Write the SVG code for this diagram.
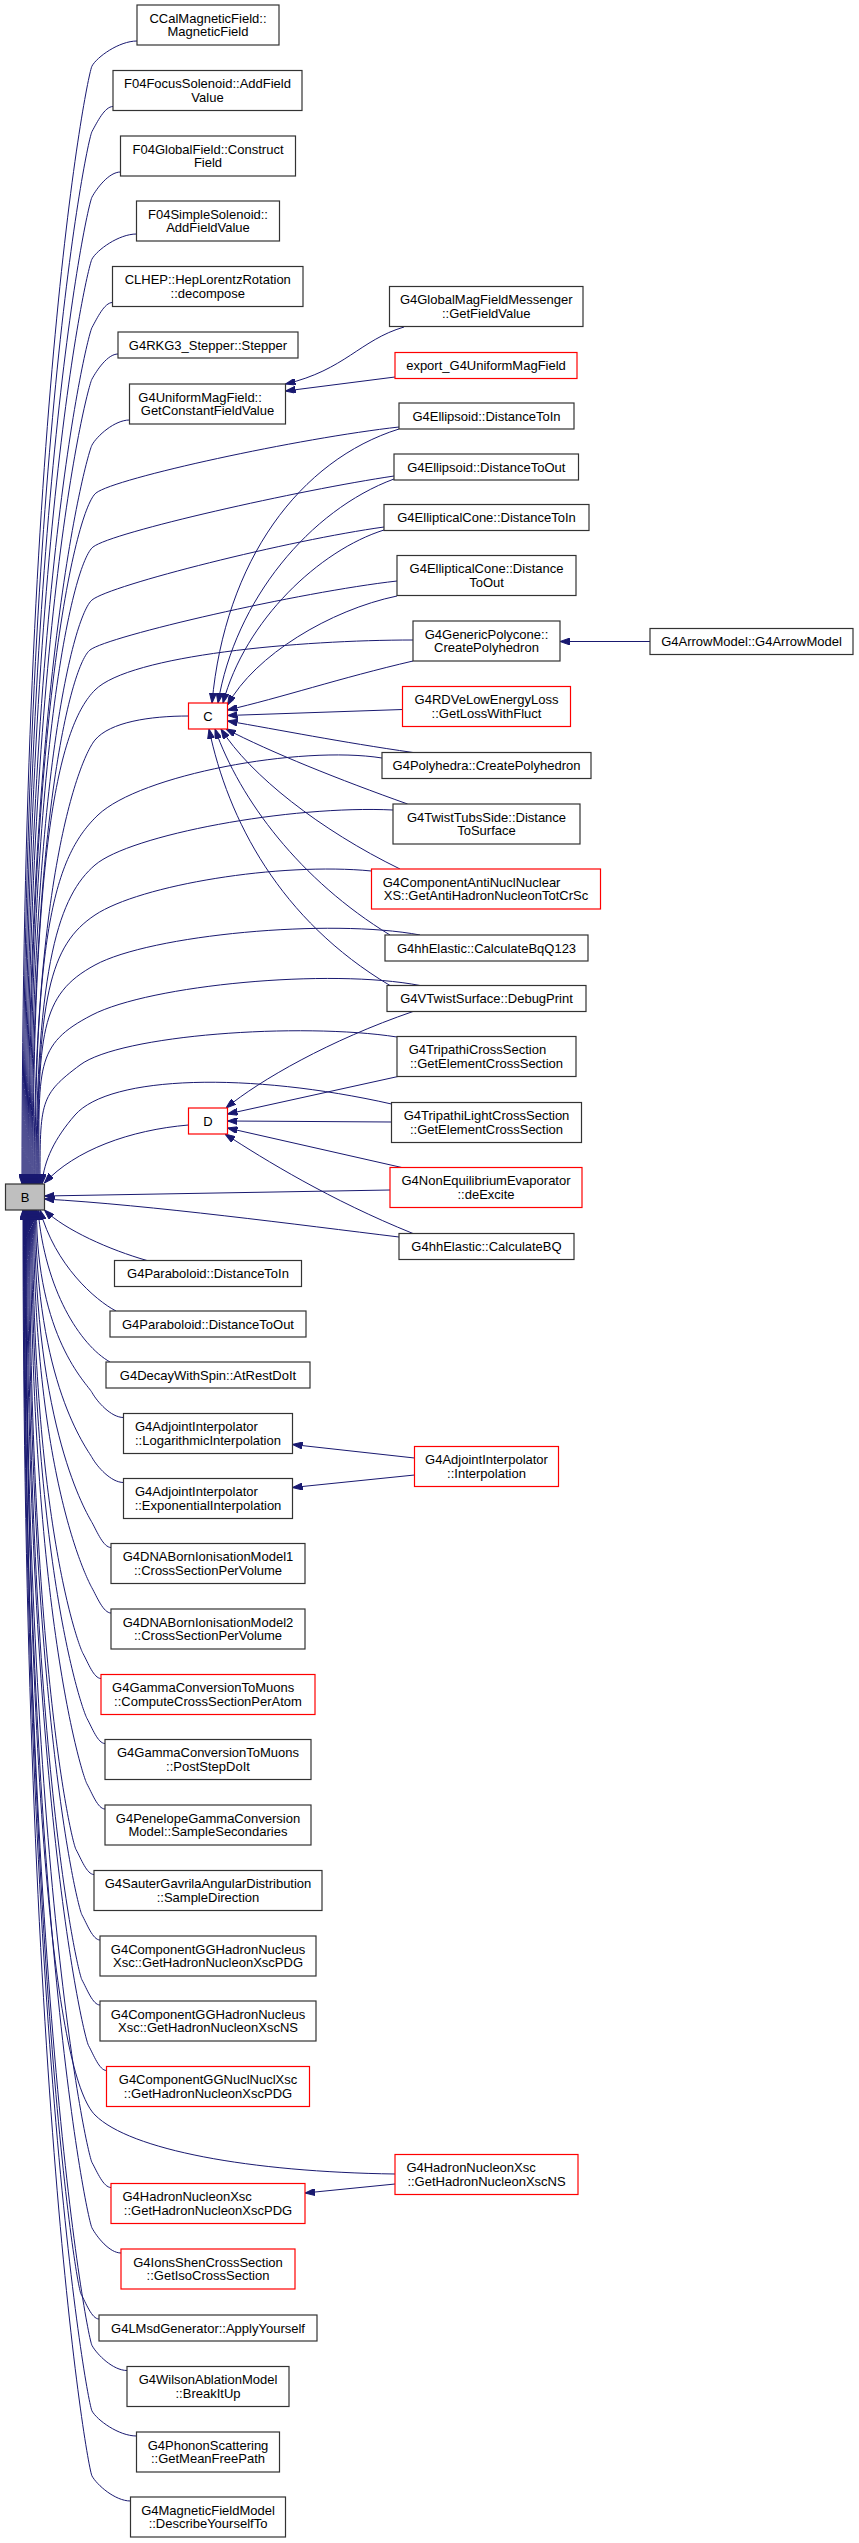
<svg xmlns="http://www.w3.org/2000/svg" width="859" height="2543" viewBox="0 0 859 2543">
<style>
.n rect{fill:#fff;stroke:#333;stroke-width:1.2}
.n.r rect{stroke:#ff0000}
.n.g rect{fill:#bfbfbf}
text{font-family:"Liberation Sans",Arial,Helvetica,sans-serif;font-size:13px;fill:#000}
.c{text-anchor:middle}
.e path{fill:none;stroke:#191970;stroke-width:1;marker-end:url(#ah)}
</style>
<defs>
<marker id="ah" viewBox="0 0 10 7" refX="10" refY="3.5" markerWidth="10" markerHeight="7" markerUnits="userSpaceOnUse" orient="auto"><path d="M0,0 L10,3.5 L0,7 z" fill="#191970" stroke="#191970" stroke-width="1"/></marker>
</defs>
<rect x="0" y="0" width="859" height="2543" fill="#fff"/>
<g id="edges" class="e">
<path d="M137,41 C119,41 97,57 92,66 S22,401 22,1184"/>
<path d="M113,106.5 C104.6,106.5 97,122.5 92,131.5 S23,447 23,1184"/>
<path d="M120.5,172 C109,172 97,188 92,197 S24,493 24,1184"/>
<path d="M136.5,234 C118.7,234 97,250 92,259 S25,536.5 25,1184"/>
<path d="M112.5,302.5 C104.3,302.5 97,318.5 92,327.5 S26,584.5 26,1184"/>
<path d="M118,354 C107.6,354 97,370 92,379 S27,620.5 27,1184"/>
<path d="M129.5,420 C114.5,420 97,436 92,445 S28,666.7 28,1184"/>
<path d="M399,427 C300,438 115,478 96,493 S29,700 29,1184"/>
<path d="M394,476 C300,490 112,532 93,547 S30,738 30,1184"/>
<path d="M384,527 C290,540 110,585 92,600 S31,775 31,1184"/>
<path d="M397,581 C300,592 108,636 90,650 S32,810 32,1184"/>
<path d="M413,640 C300,640 130,655 95,690 S33,838 33,1184"/>
<path d="M188.5,716 C150,716 110,722 95,740 S34,873 34,1184"/>
<path d="M382,758 C300,745 140,775 98,815 S35,926 35,1184"/>
<path d="M393,810 C290,805 130,835 95,865 S36,961 36,1184"/>
<path d="M371.5,871 C280,862 140,885 95,915 S37,996 37,1184"/>
<path d="M420,935 C330,918 150,935 95,965 S38,1031 38,1184"/>
<path d="M420,985.5 C330,968 150,985 92,1015 S39,1066 39,1184"/>
<path d="M397,1037 C300,1022 120,1035 80,1065 S40,1101 40,1184"/>
<path d="M391.5,1104 C250,1072 110,1075 75,1115 C55,1138 44,1160 42,1184"/>
<path d="M188.5,1125 C130,1130 75,1150 44.5,1183"/>
<path d="M390,1190 L44.5,1196"/>
<path d="M399,1237 C300,1225 150,1205 44.5,1199"/>
<path d="M147,1260.5 C110,1250 65,1230 44.5,1210"/>
<path d="M116,1311 C95,1300 55,1265 40,1210"/>
<path d="M110,1362 C80,1345 45,1290 38,1210"/>
<path d="M123.5,1417.5 C110.9,1417.5 97,1401.5 92,1392.5 S36.5,1337.75 36.5,1210"/>
<path d="M123.5,1482.5 C110.9,1482.5 97,1466.5 92,1457.5 S35.5,1383 35.5,1210"/>
<path d="M111,1547.5 C103.4,1547.5 97,1531.5 92,1522.5 S34.5,1428.75 34.5,1210"/>
<path d="M111,1613 C103.4,1613 97,1597 92,1588 S33.5,1474.6 33.5,1210"/>
<path d="M101,1678.5 C93.8,1678.5 88,1662.5 83,1653.5 S32.5,1520.5 32.5,1210"/>
<path d="M105,1743.5 C97.8,1743.5 92,1727.5 87,1718.5 S31.5,1566 31.5,1210"/>
<path d="M105,1809 C97.8,1809 92,1793 87,1784 S30.5,1612 30.5,1210"/>
<path d="M94,1874.5 C86.8,1874.5 81,1858.5 76,1849.5 S29.5,1657.6 29.5,1210"/>
<path d="M100,1940 C92.8,1940 87,1924 82,1915 S28.5,1703.5 28.5,1210"/>
<path d="M100,2005 C92.8,2005 87,1989 82,1980 S27.5,1749 27.5,1210"/>
<path d="M106.5,2070.5 C99.3,2070.5 93.5,2054.5 88.5,2045.5 S26.5,1794.8 26.5,1210"/>
<path d="M395,2174 C250,2172 130,2150 95,2115 S26,1843.5 26,1210"/>
<path d="M111,2187.5 C103.4,2187.5 97,2171.5 92,2162.5 S25.5,1876.75 25.5,1210"/>
<path d="M121,2253 C109.4,2253 97,2237 92,2228 S25,1922.6 25,1210"/>
<path d="M99,2319 C91.8,2319 86,2303 81,2294 S24.5,1968.8 24.5,1210"/>
<path d="M127,2370.5 C113,2370.5 97,2354.5 92,2345.5 S24,2004.85 24,1210"/>
<path d="M136.5,2436 C118.7,2436 97,2420 92,2411 S23.5,2050.7 23.5,1210"/>
<path d="M130.5,2501 C115.1,2501 97,2485 92,2476 S23,2096.2 23,1210"/>
<path d="M399,429 C300,460 225,560 212,703"/>
<path d="M394,479 C310,510 235,600 218,703"/>
<path d="M384,530 C320,550 245,620 223,703"/>
<path d="M397,596 C330,610 255,655 227.5,705"/>
<path d="M413,661 C340,678 280,698 227.5,710"/>
<path d="M402.5,709.5 L227.5,715.5"/>
<path d="M413,752.5 C340,742 280,730 227.5,721"/>
<path d="M407.6,804 C340,780 270,752 226,729"/>
<path d="M400,869 C320,830 250,775 221,729"/>
<path d="M390,935 C300,880 240,800 215,729"/>
<path d="M390,985.5 C280,920 228,820 209,729"/>
<path d="M413,1011.5 C330,1040 260,1080 226,1108"/>
<path d="M398,1076.5 L227.5,1114"/>
<path d="M391.5,1122 L227.5,1121"/>
<path d="M401.8,1167.5 L227.5,1128"/>
<path d="M413,1233.5 C330,1200 265,1160 225,1134"/>
<path d="M404,327 C360,340 345,370 285.5,384"/>
<path d="M395,377 L285.5,391"/>
<path d="M650,641.5 L560,641.5"/>
<path d="M414.5,1458 L292.5,1444.5"/>
<path d="M414.5,1475 L292.5,1487.5"/>
<path d="M395,2184 L305,2193"/>
</g>
<g id="node-B" class="n g"><rect x="5.5" y="1184" width="39" height="26"/><text class="c" x="25" y="1201.5">B</text></g>
<g id="node-CCal" class="n"><rect x="137" y="5" width="142" height="40"/><text class="c" x="208" y="22.5">CCalMagneticField::</text><text class="c" x="208" y="36">MagneticField</text></g>
<g id="node-F04Focus" class="n"><rect x="113" y="70.5" width="189" height="40"/><text class="c" x="207.5" y="88">F04FocusSolenoid::AddField</text><text class="c" x="207.5" y="101.5">Value</text></g>
<g id="node-F04Global" class="n"><rect x="120.5" y="136" width="175" height="40"/><text class="c" x="208" y="153.5">F04GlobalField::Construct</text><text class="c" x="208" y="167">Field</text></g>
<g id="node-F04Simple" class="n"><rect x="136.5" y="201" width="143" height="40"/><text class="c" x="208" y="218.5">F04SimpleSolenoid::</text><text class="c" x="208" y="232">AddFieldValue</text></g>
<g id="node-CLHEP" class="n"><rect x="112.5" y="266.5" width="190.5" height="40"/><text class="c" x="207.75" y="284">CLHEP::HepLorentzRotation</text><text class="c" x="207.75" y="297.5">::decompose</text></g>
<g id="node-RKG3" class="n"><rect x="118" y="332" width="180" height="26"/><text class="c" x="208" y="349.5">G4RKG3_Stepper::Stepper</text></g>
<g id="node-Uniform" class="n"><rect x="129.5" y="384" width="156" height="40"/><text x="138.3" y="401.5">G4UniformMagField::</text><text class="c" x="207.5" y="415">GetConstantFieldValue</text></g>
<g id="node-GlobalMag" class="n"><rect x="389.5" y="286.5" width="193.5" height="40"/><text class="c" x="486.25" y="304">G4GlobalMagFieldMessenger</text><text class="c" x="486.25" y="317.5">::GetFieldValue</text></g>
<g id="node-export" class="n r"><rect x="395" y="352.5" width="182" height="26"/><text class="c" x="486" y="370">export_G4UniformMagField</text></g>
<g id="node-EllIn" class="n"><rect x="399" y="403" width="175" height="26"/><text class="c" x="486.5" y="420.5">G4Ellipsoid::DistanceToIn</text></g>
<g id="node-EllOut" class="n"><rect x="394" y="454" width="184.5" height="26"/><text class="c" x="486.25" y="471.5">G4Ellipsoid::DistanceToOut</text></g>
<g id="node-ConeIn" class="n"><rect x="384" y="504.5" width="205" height="26"/><text class="c" x="486.5" y="522">G4EllipticalCone::DistanceToIn</text></g>
<g id="node-ConeOut" class="n"><rect x="397" y="555.5" width="179" height="40"/><text class="c" x="486.5" y="573">G4EllipticalCone::Distance</text><text class="c" x="486.5" y="586.5">ToOut</text></g>
<g id="node-GenPoly" class="n"><rect x="413" y="621" width="147" height="40"/><text class="c" x="486.5" y="638.5">G4GenericPolycone::</text><text class="c" x="486.5" y="652">CreatePolyhedron</text></g>
<g id="node-ArrowModel" class="n"><rect x="650" y="628.5" width="203" height="26"/><text class="c" x="751.5" y="646">G4ArrowModel::G4ArrowModel</text></g>
<g id="node-RDVe" class="n r"><rect x="402.5" y="686.5" width="168" height="40"/><text class="c" x="486.5" y="704">G4RDVeLowEnergyLoss</text><text class="c" x="486.5" y="717.5">::GetLossWithFluct</text></g>
<g id="node-C" class="n r"><rect x="188.5" y="703" width="39" height="26"/><text class="c" x="208" y="720.5">C</text></g>
<g id="node-Polyhedra" class="n"><rect x="382" y="752.5" width="209" height="26"/><text class="c" x="486.5" y="770">G4Polyhedra::CreatePolyhedron</text></g>
<g id="node-TwistTubs" class="n"><rect x="393" y="804" width="187" height="40"/><text class="c" x="486.5" y="821.5">G4TwistTubsSide::Distance</text><text class="c" x="486.5" y="835">ToSurface</text></g>
<g id="node-AntiNucl" class="n r"><rect x="371.5" y="869" width="229" height="40"/><text x="382.7" y="886.5">G4ComponentAntiNuclNuclear</text><text class="c" x="486" y="900">XS::GetAntiHadronNucleonTotCrSc</text></g>
<g id="node-BqQ123" class="n"><rect x="385" y="935" width="203" height="26"/><text class="c" x="486.5" y="952.5">G4hhElastic::CalculateBqQ123</text></g>
<g id="node-DebugPrint" class="n"><rect x="387" y="985.5" width="199" height="26"/><text class="c" x="486.5" y="1003">G4VTwistSurface::DebugPrint</text></g>
<g id="node-TripathiCross" class="n"><rect x="397" y="1036.5" width="179" height="40"/><text x="408.7" y="1054">G4TripathiCrossSection</text><text class="c" x="486.5" y="1067.5">::GetElementCrossSection</text></g>
<g id="node-TripathiLight" class="n"><rect x="391.5" y="1102.5" width="190" height="40"/><text class="c" x="486.5" y="1120">G4TripathiLightCrossSection</text><text class="c" x="486.5" y="1133.5">::GetElementCrossSection</text></g>
<g id="node-D" class="n r"><rect x="188.5" y="1108" width="39" height="26"/><text class="c" x="208" y="1125.5">D</text></g>
<g id="node-NonEq" class="n r"><rect x="390" y="1167.5" width="192" height="40"/><text class="c" x="486" y="1185">G4NonEquilibriumEvaporator</text><text class="c" x="486" y="1198.5">::deExcite</text></g>
<g id="node-CalculateBQ" class="n"><rect x="399" y="1233.5" width="175" height="26"/><text class="c" x="486.5" y="1251">G4hhElastic::CalculateBQ</text></g>
<g id="node-ParaIn" class="n"><rect x="114.5" y="1260.5" width="187" height="26"/><text class="c" x="208" y="1278">G4Paraboloid::DistanceToIn</text></g>
<g id="node-ParaOut" class="n"><rect x="110" y="1311" width="196" height="26"/><text class="c" x="208" y="1328.5">G4Paraboloid::DistanceToOut</text></g>
<g id="node-Decay" class="n"><rect x="106" y="1362" width="204" height="26"/><text class="c" x="208" y="1379.5">G4DecayWithSpin::AtRestDoIt</text></g>
<g id="node-AdjLog" class="n"><rect x="123.5" y="1413.5" width="169" height="40"/><text x="135" y="1431">G4AdjointInterpolator</text><text class="c" x="208" y="1444.5">::LogarithmicInterpolation</text></g>
<g id="node-AdjInterp" class="n r"><rect x="414.5" y="1446.5" width="144" height="40"/><text class="c" x="486.5" y="1464">G4AdjointInterpolator</text><text class="c" x="486.5" y="1477.5">::Interpolation</text></g>
<g id="node-AdjExp" class="n"><rect x="123.5" y="1478.5" width="169" height="40"/><text x="135" y="1496">G4AdjointInterpolator</text><text class="c" x="208" y="1509.5">::ExponentialInterpolation</text></g>
<g id="node-DNA1" class="n"><rect x="111" y="1543.5" width="194" height="40"/><text class="c" x="208" y="1561">G4DNABornIonisationModel1</text><text class="c" x="208" y="1574.5">::CrossSectionPerVolume</text></g>
<g id="node-DNA2" class="n"><rect x="111" y="1609" width="194" height="40"/><text class="c" x="208" y="1626.5">G4DNABornIonisationModel2</text><text class="c" x="208" y="1640">::CrossSectionPerVolume</text></g>
<g id="node-GammaComp" class="n r"><rect x="101" y="1674.5" width="214" height="40"/><text x="112.1" y="1692">G4GammaConversionToMuons</text><text class="c" x="208" y="1705.5">::ComputeCrossSectionPerAtom</text></g>
<g id="node-PostStep" class="n"><rect x="105" y="1739.5" width="206" height="40"/><text class="c" x="208" y="1757">G4GammaConversionToMuons</text><text class="c" x="208" y="1770.5">::PostStepDoIt</text></g>
<g id="node-Penelope" class="n"><rect x="105" y="1805" width="206" height="40"/><text class="c" x="208" y="1822.5">G4PenelopeGammaConversion</text><text class="c" x="208" y="1836">Model::SampleSecondaries</text></g>
<g id="node-Sauter" class="n"><rect x="94" y="1870.5" width="228" height="40"/><text class="c" x="208" y="1888">G4SauterGavrilaAngularDistribution</text><text class="c" x="208" y="1901.5">::SampleDirection</text></g>
<g id="node-GGPDG" class="n"><rect x="100" y="1936" width="216" height="40"/><text class="c" x="208" y="1953.5">G4ComponentGGHadronNucleus</text><text class="c" x="208" y="1967">Xsc::GetHadronNucleonXscPDG</text></g>
<g id="node-GGNS" class="n"><rect x="100" y="2001" width="216" height="40"/><text class="c" x="208" y="2018.5">G4ComponentGGHadronNucleus</text><text class="c" x="208" y="2032">Xsc::GetHadronNucleonXscNS</text></g>
<g id="node-GGNucl" class="n r"><rect x="106.5" y="2066.5" width="203" height="40"/><text class="c" x="208" y="2084">G4ComponentGGNuclNuclXsc</text><text class="c" x="208" y="2097.5">::GetHadronNucleonXscPDG</text></g>
<g id="node-HadronNS" class="n r"><rect x="395" y="2154.5" width="183" height="40"/><text x="406.4" y="2172">G4HadronNucleonXsc</text><text class="c" x="486.5" y="2185.5">::GetHadronNucleonXscNS</text></g>
<g id="node-HadronPDG" class="n r"><rect x="111" y="2183.5" width="194" height="40"/><text x="122.5" y="2201">G4HadronNucleonXsc</text><text class="c" x="208" y="2214.5">::GetHadronNucleonXscPDG</text></g>
<g id="node-IonsShen" class="n r"><rect x="121" y="2249" width="174" height="40"/><text class="c" x="208" y="2266.5">G4IonsShenCrossSection</text><text class="c" x="208" y="2280">::GetIsoCrossSection</text></g>
<g id="node-LMsd" class="n"><rect x="99" y="2315" width="218" height="26"/><text class="c" x="208" y="2332.5">G4LMsdGenerator::ApplyYourself</text></g>
<g id="node-Wilson" class="n"><rect x="127" y="2366.5" width="162" height="40"/><text class="c" x="208" y="2384">G4WilsonAblationModel</text><text class="c" x="208" y="2397.5">::BreakItUp</text></g>
<g id="node-Phonon" class="n"><rect x="136.5" y="2432" width="143" height="40"/><text class="c" x="208" y="2449.5">G4PhononScattering</text><text class="c" x="208" y="2463">::GetMeanFreePath</text></g>
<g id="node-MagField" class="n"><rect x="130.5" y="2497" width="155" height="40"/><text class="c" x="208" y="2514.5">G4MagneticFieldModel</text><text class="c" x="208" y="2528">::DescribeYourselfTo</text></g>
</svg>
